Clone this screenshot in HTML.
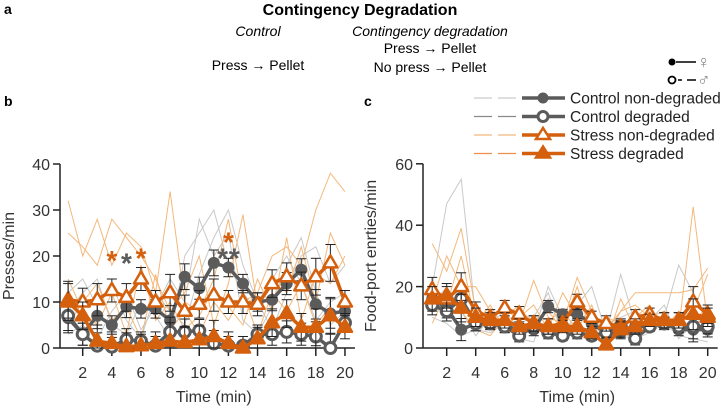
<!DOCTYPE html>
<html><head><meta charset="utf-8"><style>
body{margin:0;background:#fff;}
svg{display:block;font-family:"Liberation Sans",sans-serif;}
</style></head><body>
<svg id="s" width="720" height="408" viewBox="0 0 720 408">
<text x="4" y="14" font-size="14" font-weight="bold">a</text>
<text x="360" y="15" font-size="16" font-weight="bold" text-anchor="middle">Contingency Degradation</text>
<text x="258" y="36" font-size="14" font-style="italic" text-anchor="middle">Control</text>
<text x="430" y="36" font-size="14" font-style="italic" text-anchor="middle">Contingency degradation</text>
<text x="258" y="70" font-size="14" text-anchor="middle">Press → Pellet</text>
<text x="430" y="53" font-size="14" text-anchor="middle">Press → Pellet</text>
<text x="430" y="72" font-size="14" text-anchor="middle">No press → Pellet</text>
<g>
<circle cx="672" cy="62" r="3.5" fill="#000"/><line x1="676" y1="62" x2="696" y2="62" stroke="#000" stroke-width="1.5"/><text x="697" y="68" font-size="18" fill="#888">♀</text>
<circle cx="672" cy="80" r="3.5" fill="none" stroke="#000" stroke-width="1.8"/><line x1="678" y1="80" x2="682" y2="80" stroke="#000" stroke-width="1.5"/><line x1="687" y1="80" x2="696" y2="80" stroke="#000" stroke-width="1.5"/><text x="697" y="86" font-size="18" fill="#888">♂</text>
</g>
<text x="4" y="106" font-size="14" font-weight="bold">b</text>
<text x="364" y="106" font-size="14" font-weight="bold">c</text>
<g id="legend"></g>
<g id="pb"></g>
<g id="pc"></g>
</svg>
<script>
const minutes=[1,2,3,4,5,6,7,8,9,10,11,12,13,14,15,16,17,18,19,20];
// Panel b: presses/min
const bCtrlNon=[6.5,3,7,5,9,8.5,8.5,6,15.5,13,18.5,17.5,14,10,10.5,14,17,9.5,7.5,8];
const bCtrlDeg=[7,3,0.5,0.3,1.8,1.5,0.5,3.5,3.5,3.8,1,0.5,0.5,3,3,3.5,3,2.5,0,5.5];
const bStrNon=[10.5,10,10.5,12.5,11,15,10,12,8,9.5,11.5,10,10,9.5,14,15.5,13.5,15.5,18.5,10];
const bStrDeg=[10,7,1.5,1,0.3,0.5,1,1.5,1.2,1.8,2.5,1,0,2,5.5,7.5,4.5,4.5,7,4.5];
const bErr=[4,3,3.5,2.5,3,2.5,2.5,4,3.5,3,3.5,2.5,2.5,2.5,3,3,3,4,4,2.5];
const bBgGray=[[8,12,15,5,3,10,7,2,20,25,30,18,12,8,15,20,14,6,10,12],[3,5,2,8,12,4,9,15,10,28,20,25,6,3,9,18,24,12,5,8],[12,15,9,14,6,2,12,8,5,16,24,30,18,10,4,12,20,22,14,18]];
const bBgOrange=[[32,20,28,18,25,22,12,34,10,8,15,28,10,12,20,22,18,30,38,34],[25,22,18,28,24,20,15,8,12,20,5,14,29,9,16,12,22,10,25,18],[15,8,5,12,3,18,6,10,4,7,13,9,5,15,8,24,6,16,14,20],[5,10,14,6,9,2,16,4,8,3,10,6,12,3,12,8,14,5,9,3]];
const bTicksX=[2,4,6,8,10,12,14,16,18,20];
const bTicksY=[0,10,20,30,40];
// Panel c: food-port entries/min
const cCtrlNon=[16,13,6,8,8,7,6,6,13.5,11,11,8,5,5,7,7,8,6,6,6];
const cCtrlDeg=[14,12,16,8,8,7,4,7,5,4,5,4,5,7,3,7,8,7,7,7];
const cStrNon=[19,16,20,12,10,13,11,8,7,8,15,10,8,7,10,11,9,9,15,11];
const cStrDeg=[16,17,13,10,9,9,7,8,7,7,7,5,1,6,7,9,9,9,11,10];
const cErr=[4,4,4.5,3,2.5,2.5,2.5,2.5,2.5,2,2.5,2,2.5,2.5,2.5,2,2.5,2.5,5,3];
const cBgGray=[[20,47,55,10,8,12,6,5,20,10,14,20,5,24,8,6,10,27,18,8],[10,8,4,6,5,8,3,2,16,6,9,12,2,4,3,5,8,4,3,2],[14,20,12,4,10,6,8,10,18,4,12,6,8,10,12,9,14,3,8,10]];
const cBgOrange=[[34,25,39,12,10,14,8,22,10,8,23,12,6,12,18,18,18,18,19,26],[15,30,20,20,12,8,10,14,6,18,10,8,3,12,14,10,12,6,46,8],[8,18,12,6,4,10,14,5,9,12,6,14,2,16,6,12,8,10,12,24],[22,14,30,8,14,6,12,9,12,6,20,4,10,8,10,14,6,12,8,14]];
const cTicksX=[2,4,6,8,10,12,14,16,18,20];
const cTicksY=[0,20,40,60];

const NS="http://www.w3.org/2000/svg";
const GRAY="#5b5b5b",OR="#d4600e";
function mk(tag,attrs,parent){const e=document.createElementNS(NS,tag);for(const k in attrs)e.setAttribute(k,attrs[k]);parent.appendChild(e);return e;}

function panel(g,cfg){
  const X=v=>cfg.x0+(v-2)*cfg.dx, Y=v=>cfg.y0-v*cfg.dy;
  cfg.bgG.forEach(arr=>{const p=mk("polyline",{points:arr.map((v,i)=>X(minutes[i])+","+Y(v)).join(" "),fill:"none",stroke:"#c9c9c9","stroke-width":1},g);
    
    });
  cfg.bgO.forEach(arr=>{const p=mk("polyline",{points:arr.map((v,i)=>X(minutes[i])+","+Y(v)).join(" "),fill:"none",stroke:"#f3b87c","stroke-width":1},g);
    
    });
  const ax=mk("line",{x1:cfg.ax,y1:Y(cfg.ty[cfg.ty.length-1]),x2:cfg.ax,y2:cfg.y0,stroke:"#222","stroke-width":1.5},g);
  
  
  const bx=mk("line",{x1:cfg.ax,y1:cfg.y0,x2:X(20)+10,y2:cfg.y0,stroke:"#222","stroke-width":1.5},g);
  
  
  cfg.ty.forEach(v=>{mk("line",{x1:cfg.ax-7,y1:Y(v),x2:cfg.ax,y2:Y(v),stroke:"#222","stroke-width":1.5},g);
    const t=mk("text",{x:cfg.ax-10,y:Y(v)+6,"font-size":16,"text-anchor":"end",fill:"#333"},g);t.textContent=v;
    
    });
  cfg.tx.forEach(v=>{mk("line",{x1:X(v),y1:cfg.y0,x2:X(v),y2:cfg.y0+8,stroke:"#222","stroke-width":1.5},g);
    const t=mk("text",{x:X(v),y:cfg.y0+30,"font-size":16,"text-anchor":"middle",fill:"#333"},g);t.textContent=v;
    
    });
  const xt=mk("text",{x:X(11),y:cfg.y0+54,"font-size":16,"text-anchor":"middle",fill:"#333"},g);xt.textContent="Time (min)";
  
  
  const yt=mk("text",{x:0,y:0,"font-size":16,"text-anchor":"middle",fill:"#333",transform:`translate(${cfg.ytx},${Y(cfg.ty[cfg.ty.length-1]/2)}) rotate(-90)`},g);yt.textContent=cfg.ytitle;
  
  
  const series=[[cfg.cn,GRAY,"fc"],[cfg.cd,GRAY,"oc"],[cfg.sn,OR,"ot"],[cfg.sd,OR,"ft"]];
  series.forEach(([arr,col,m])=>{
    const l=mk("polyline",{points:arr.map((v,i)=>X(minutes[i])+","+Y(v)).join(" "),fill:"none",stroke:col,"stroke-width":3.5,"stroke-linejoin":"round"},g);
    
    
    arr.forEach((v,i)=>{const x=X(minutes[i]),e=cfg.err[i]*(m[1]=="c"?0.8:1);
      mk("line",{x1:x,y1:Y(v+e),x2:x,y2:Y(Math.max(0,v-e)),stroke:"#222","stroke-width":1},g);
      mk("line",{x1:x-5,y1:Y(v+e),x2:x+5,y2:Y(v+e),stroke:"#222","stroke-width":1},g);
      mk("line",{x1:x-5,y1:Y(Math.max(0,v-e)),x2:x+5,y2:Y(Math.max(0,v-e)),stroke:"#222","stroke-width":1},g);
    });
    arr.forEach((v,i)=>{const x=X(minutes[i]),y=Y(v);let p;
      if(m=="fc")p=mk("circle",{cx:x,cy:y,r:6,fill:col},g);
      else if(m=="oc")p=mk("circle",{cx:x,cy:y,r:5.5,fill:"#fff",stroke:col,"stroke-width":3},g);
      else p=mk("polygon",{points:`${x},${y-7.5} ${x-7},${y+4.5} ${x+7},${y+4.5}`,fill:m=="ft"?col:"#fff",stroke:col,"stroke-width":2.5,"stroke-linejoin":"round"},g);
      
      });
  });
}
panel(document.getElementById("pb"),{x0:82.7,dx:14.57,y0:348,dy:4.6,ax:60,ty:bTicksY,tx:bTicksX,ytitle:"Presses/min",ytx:14,
  cn:bCtrlNon,cd:bCtrlDeg,sn:bStrNon,sd:bStrDeg,err:bErr,bgG:bBgGray,bgO:bBgOrange});
panel(document.getElementById("pc"),{x0:446.7,dx:14.5,y0:348,dy:3.07,ax:423,ty:cTicksY,tx:cTicksX,ytitle:"Food-port enrties/min",ytx:376,
  cn:cCtrlNon,cd:cCtrlDeg,sn:cStrNon,sd:cStrDeg,err:cErr,bgG:cBgGray,bgO:cBgOrange});

const pb=document.getElementById("pb");
[[4,20,OR],[5,19.5,GRAY],[6,20.5,OR],[12,24,OR],[11.6,20.5,GRAY],[12.4,20.5,GRAY]].forEach(([m,v,c])=>{
  const t=mk("text",{x:82.7+(m-2)*14.57,y:348-v*4.6+14,"font-size":28,"font-weight":"bold","text-anchor":"middle",fill:c},pb);t.textContent="*";
  
  });

const lg=document.getElementById("legend");
const names=["Control non-degraded","Control degraded","Stress non-degraded","Stress degraded"];
const cols=[GRAY,GRAY,OR,OR],thin=["#c9c9c9","#8a8a8a","#f3b87c","#ef8e4a"],mks=["fc","oc","ot","ft"];
names.forEach((n,i)=>{const y=98+i*18.5;
  mk("line",{x1:474,y1:y,x2:525,y2:y,stroke:thin[i],"stroke-width":1.2,"stroke-dasharray":"18 6"},lg);
  mk("line",{x1:522,y1:y,x2:565,y2:y,stroke:cols[i],"stroke-width":3.5},lg);
  const x=543;
  if(mks[i]=="fc")mk("circle",{cx:x,cy:y,r:5.5,fill:cols[i]},lg);
  else if(mks[i]=="oc")mk("circle",{cx:x,cy:y,r:5,fill:"#fff",stroke:cols[i],"stroke-width":3},lg);
  else mk("polygon",{points:`${x},${y-7} ${x-7},${y+4} ${x+7},${y+4}`,fill:mks[i]=="ft"?cols[i]:"#fff",stroke:cols[i],"stroke-width":2.5},lg);
  const t=mk("text",{x:570,y:y+5.5,"font-size":15.5,fill:"#222"},lg);t.textContent=n;
  
  
});
</script>
</body></html>
